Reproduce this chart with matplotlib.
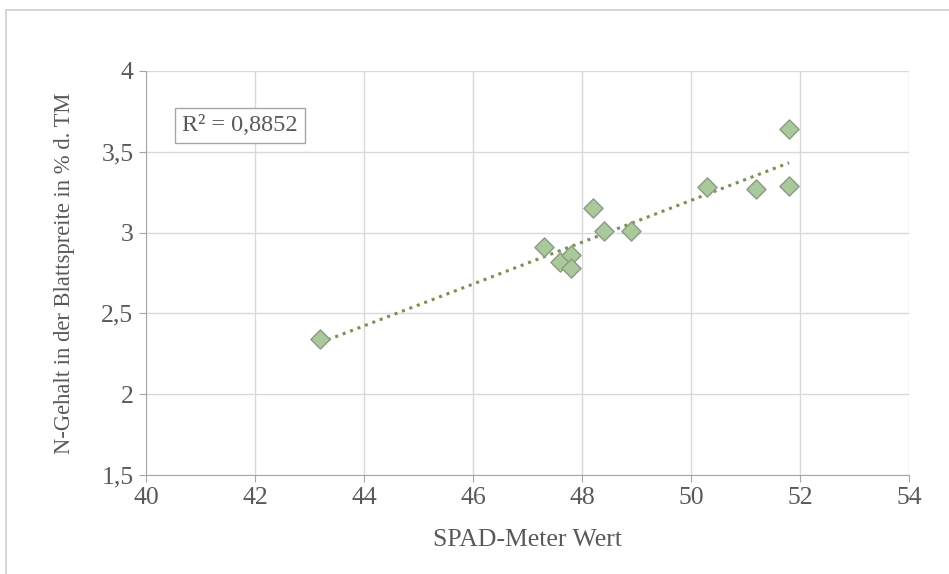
import matplotlib.pyplot as plt
import numpy as np
from matplotlib.patches import Rectangle

spad = [43.2, 47.3, 47.6, 47.8, 47.8, 48.2, 48.4, 48.9, 50.3, 51.2, 51.8, 51.8]
n_gehalt = [2.34, 2.91, 2.82, 2.86, 2.78, 3.15, 3.01, 3.01, 3.28, 3.27, 3.29, 3.64]
x_ticks = [40, 42, 44, 46, 48, 50, 52, 54]
y_ticks = [1.5, 2, 2.5, 3, 3.5, 4]
y_labels = ["1,5", "2", "2,5", "3", "3,5", "4"]
r2_text = "R² = 0,8852"

plt.rcParams['font.family'] = ['Liberation Serif', 'DejaVu Serif']

fig = plt.figure(figsize=(9.49, 5.74), dpi=100)
fig.patches.append(Rectangle((6 / 949, -0.1), 1.2, (574 - 10) / 574 + 0.1,
                             transform=fig.transFigure, fill=False,
                             edgecolor='#d0d0d0', linewidth=1.2))
ax = fig.add_axes([146 / 949, 1 - 475 / 574, (909 - 146) / 949, (475 - 71) / 574])

# Trendlinie (linear)
k, d = np.polyfit(spad, n_gehalt, 1)
xs = np.array([min(spad), max(spad)])
ax.plot(xs, k * xs + d, linestyle=(0, (1, 1.6)), color='#7a9150', linewidth=2.2, zorder=3)

ax.scatter(spad, n_gehalt, marker='D', s=95, facecolor='#a9c99a',
           edgecolor='#8a9a84', linewidth=1.0, zorder=4)

ax.set_xlim(40, 54)
ax.set_ylim(1.5, 4)
ax.set_xticks(x_ticks)
ax.set_yticks(y_ticks)
ax.set_yticklabels(y_labels)
ax.grid(True, color='#d9d9d9', linewidth=1)
ax.set_axisbelow(True)
for s in ['top', 'right']:
    ax.spines[s].set_visible(False)
for s in ['left', 'bottom']:
    ax.spines[s].set_color('#a6a6a6')
ax.tick_params(colors='#a6a6a6', length=5, labelcolor='#595959', labelsize=18.5, pad=4)

ax.set_xlabel("SPAD-Meter Wert", fontsize=18.5, color='#595959', labelpad=14)
ax.set_ylabel("N-Gehalt in der Blattspreite in % d. TM", fontsize=16.3, color='#595959', labelpad=19)

ax.text(0.047, 0.865, r2_text, transform=ax.transAxes, fontsize=17.5, color='#595959',
        va='center', ha='left',
        bbox=dict(boxstyle='square,pad=0.3', facecolor='white', edgecolor='#a6a6a6', linewidth=1))

fig.savefig("out.png", dpi=100)
